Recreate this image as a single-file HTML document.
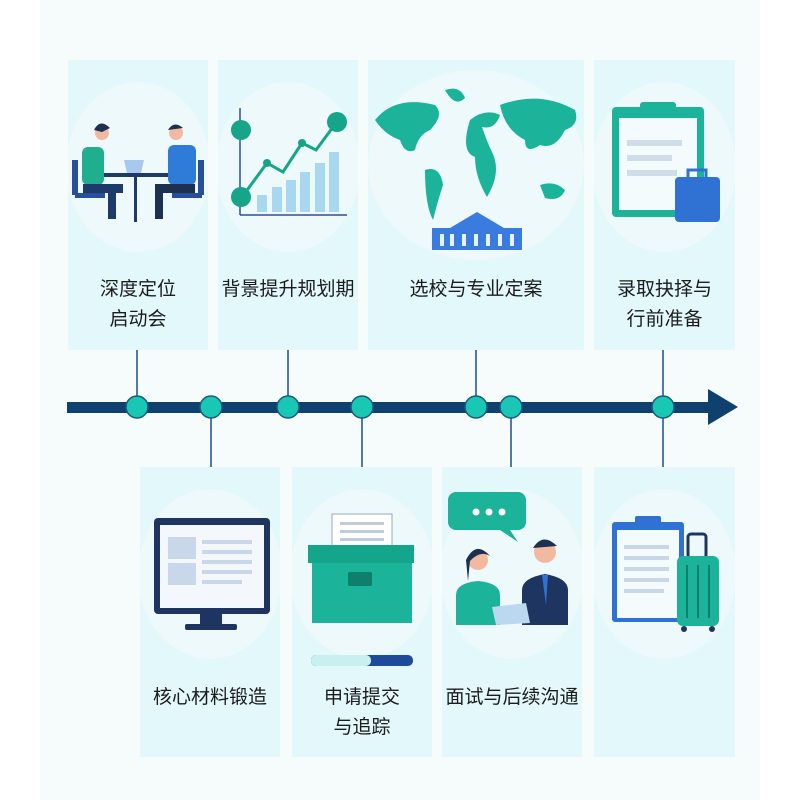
<!DOCTYPE html>
<html><head><meta charset="utf-8"><style>
body{margin:0;width:800px;height:800px;background:#fff;position:relative;overflow:hidden;font-family:"Liberation Sans","Noto Sans CJK SC",sans-serif}
.panel{position:absolute;left:40px;top:0;width:720px;height:800px;background:#f6fcfc}
.card{position:absolute;background:#e2f8fa;overflow:hidden}
.circ{position:absolute;border-radius:50%;background:#eef9fb}
.lbl{position:absolute;left:0;right:0;text-align:center;font-size:19px;color:#1c1c1c;line-height:30px}
svg{position:absolute;left:0;top:0}
</style></head><body>
<div class="panel"></div>

<!-- top cards -->
<div class="card" style="left:68px;top:60px;width:140px;height:290px"><div class="circ" style="left:-2px;top:22px;width:144px;height:170px"></div><div class="lbl" style="top:275px;top:215px">深度定位<br>启动会</div></div>
<div class="card" style="left:218px;top:60px;width:140px;height:290px"><div class="circ" style="left:-2px;top:22px;width:144px;height:170px"></div><div class="lbl" style="top:215px">背景提升规划期</div></div>
<div class="card" style="left:368px;top:60px;width:216px;height:290px"><div class="circ" style="left:0;top:10px;width:216px;height:190px"></div><div class="lbl" style="top:215px">选校与专业定案</div></div>
<div class="card" style="left:594px;top:60px;width:141px;height:290px"><div class="circ" style="left:-2px;top:22px;width:144px;height:170px"></div><div class="lbl" style="top:215px">录取抉择与<br>行前准备</div></div>

<!-- bottom cards -->
<div class="card" style="left:140px;top:467px;width:140px;height:290px"><div class="circ" style="left:-2px;top:22px;width:144px;height:170px"></div><div class="lbl" style="top:216px">核心材料锻造</div></div>
<div class="card" style="left:292px;top:467px;width:140px;height:290px"><div class="circ" style="left:-2px;top:22px;width:144px;height:170px"></div><div class="lbl" style="top:216px">申请提交<br>与追踪</div></div>
<div class="card" style="left:442px;top:467px;width:140px;height:290px"><div class="circ" style="left:-2px;top:22px;width:144px;height:170px"></div><div class="lbl" style="top:216px">面试与后续沟通</div></div>
<div class="card" style="left:594px;top:467px;width:141px;height:290px"><div class="circ" style="left:-2px;top:22px;width:144px;height:170px"></div></div>

<svg width="800" height="800" viewBox="0 0 800 800">
<!-- connectors -->
<g stroke="#1d4f8a" stroke-width="1.5">
<line x1="137" y1="350" x2="137" y2="407"/><line x1="288" y1="350" x2="288" y2="407"/>
<line x1="476" y1="350" x2="476" y2="407"/><line x1="663" y1="350" x2="663" y2="407"/>
<line x1="211" y1="407" x2="211" y2="467"/><line x1="362" y1="407" x2="362" y2="467"/>
<line x1="511" y1="407" x2="511" y2="467"/><line x1="663" y1="407" x2="663" y2="467"/>
</g>
<rect x="67" y="402" width="648" height="11" fill="#0e416e"/>
<polygon points="708,389 738,407 708,425" fill="#0e416e"/>
<g fill="#18c8b4" stroke="#1a5a80" stroke-width="1.5">
<circle cx="137" cy="407" r="11"/><circle cx="211" cy="407" r="11"/><circle cx="288" cy="407" r="11"/><circle cx="362" cy="407" r="11"/><circle cx="476" cy="407" r="11"/><circle cx="511" cy="407" r="11"/><circle cx="663" cy="407" r="11"/>
</g>

<!-- icon 1: meeting -->
<g>
<rect x="100" y="173" width="70" height="4" fill="#1d3a6a"/><rect x="134" y="177" width="3" height="45" fill="#1d3a6a"/>
<polygon points="124,160 144,160 141,173 127,173" fill="#a8c8f0"/>
<circle cx="102" cy="133" r="7" fill="#f2b9a0"/><path d="M94,130 q6,-12 16,-2 l-8,4 z" fill="#1d3050"/>
<rect x="82" y="147" width="22" height="38" rx="6" fill="#1fae8e"/><rect x="83" y="184" width="40" height="9" fill="#1d3a6a"/><rect x="108" y="184" width="8" height="35" fill="#1d3a6a"/>
<rect x="72" y="160" width="6" height="35" fill="#294f9c"/><rect x="75" y="193" width="30" height="5" fill="#294f9c"/>
<circle cx="176" cy="133" r="7" fill="#f2b9a0"/><path d="M168,130 q6,-10 15,-2 z" fill="#1d3050"/>
<rect x="168" y="145" width="28" height="40" rx="6" fill="#2f7bd8"/><rect x="155" y="184" width="40" height="9" fill="#1d3050"/><rect x="155" y="184" width="8" height="35" fill="#1d3050"/>
<rect x="198" y="160" width="6" height="35" fill="#294f9c"/><rect x="172" y="193" width="30" height="5" fill="#294f9c"/>
</g>
<!-- icon 2: chart -->
<g>
<line x1="240" y1="108" x2="240" y2="215" stroke="#2d4f9a" stroke-width="1.5"/><line x1="240" y1="215" x2="347" y2="215" stroke="#2d4f9a" stroke-width="1.5"/>
<g fill="#a8d8f0"><rect x="257" y="195" width="10" height="17"/><rect x="272" y="187" width="10" height="25"/><rect x="286" y="180" width="10" height="32"/><rect x="300" y="172" width="10" height="40"/><rect x="315" y="163" width="10" height="49"/><rect x="329" y="152" width="10" height="60"/></g>
<polyline points="242,197 267,163 283,172 302,143 316,150 336,123" fill="none" stroke="#17a58a" stroke-width="3"/>
<circle cx="241" cy="130" r="10" fill="#17a58a"/><circle cx="241" cy="197" r="10" fill="#17a58a"/><circle cx="337" cy="122" r="10" fill="#17a58a"/>
<circle cx="267" cy="163" r="4" fill="#17a58a"/><circle cx="302" cy="143" r="4" fill="#17a58a"/>
</g>
<!-- icon 3: world map -->
<g fill="#1bb39a">
<path d="M375,120 q20,-25 60,-15 q10,10 -5,25 q-12,5 -15,20 q-10,5 -15,-10 q-15,-5 -25,-20z"/>
<path d="M425,170 q15,-5 18,15 q-5,15 -10,35 q-8,-15 -8,-50z"/>
<path d="M445,90 q15,-5 20,8 q-10,10 -20,-8z"/>
<path d="M470,120 q15,-12 30,-5 q-5,15 -18,12 q5,15 10,25 q10,20 -5,45 q-12,-20 -12,-40 q-15,-5 -5,-37z"/>
<path d="M500,105 q40,-15 75,5 q5,15 -10,20 q-10,20 -25,15 q-15,10 -15,-5 q-20,-10 -25,-35z"/>
<path d="M540,185 q15,-5 25,5 q-5,12 -20,8 z"/>
</g>
<g fill="#3a7be0"><rect x="432" y="228" width="90" height="22"/><polygon points="450,228 477,212 504,228"/></g>
<g fill="#e8f2ff"><rect x="440" y="234" width="4" height="12"/><rect x="450" y="234" width="4" height="12"/><rect x="462" y="234" width="4" height="12"/><rect x="474" y="234" width="4" height="12"/><rect x="486" y="234" width="4" height="12"/><rect x="498" y="234" width="4" height="12"/><rect x="510" y="234" width="4" height="12"/></g>
<!-- icon 4: clipboard + suitcase -->
<g>
<rect x="612" y="107" width="92" height="110" rx="4" fill="#1bb39a"/><rect x="619" y="118" width="78" height="92" fill="#f4fbfc"/>
<rect x="640" y="102" width="36" height="12" rx="3" fill="#1bb39a"/>
<g fill="#cfdcea"><rect x="627" y="140" width="55" height="6"/><rect x="627" y="155" width="45" height="6"/><rect x="627" y="170" width="50" height="6"/></g>
<rect x="675" y="177" width="45" height="45" rx="4" fill="#2f72d4"/><rect x="688" y="170" width="18" height="9" fill="none" stroke="#2f72d4" stroke-width="3"/>
</g>
<!-- icon 5: monitor -->
<g>
<rect x="154" y="518" width="116" height="96" rx="4" fill="#1d3560"/><rect x="160" y="525" width="104" height="83" fill="#f4f8fc"/>
<rect x="168" y="537" width="28" height="22" fill="#c8d8ea"/><rect x="168" y="563" width="28" height="22" fill="#c8d8ea"/>
<g fill="#c8d8ea"><rect x="202" y="540" width="50" height="4"/><rect x="202" y="550" width="50" height="4"/><rect x="202" y="560" width="50" height="4"/><rect x="202" y="570" width="50" height="4"/><rect x="202" y="580" width="40" height="4"/></g>
<rect x="200" y="614" width="22" height="10" fill="#1d3560"/><rect x="185" y="624" width="52" height="6" rx="2" fill="#1d3560"/>
</g>
<!-- icon 6: box -->
<g>
<rect x="332" y="514" width="60" height="50" fill="#fff" stroke="#9aa8b8"/><g fill="#c0ccd8"><rect x="340" y="522" width="44" height="3"/><rect x="340" y="530" width="44" height="3"/><rect x="340" y="538" width="44" height="3"/></g>
<rect x="308" y="545" width="106" height="18" fill="#14a58b"/><rect x="312" y="563" width="100" height="60" fill="#1bb39a"/>
<rect x="348" y="572" width="24" height="14" rx="2" fill="#0f7f6b"/>
<rect x="311" y="655" width="102" height="11" rx="5" fill="#1e4a9a"/><rect x="311" y="655" width="60" height="11" rx="5" fill="#c8f0f0"/>
</g>
<!-- icon 7: interview -->
<g>
<path d="M456,492 h62 a8,8 0 0 1 8,8 v22 a8,8 0 0 1 -8,8 h-8 l8,12 l-18,-12 h-44 a8,8 0 0 1 -8,-8 v-22 a8,8 0 0 1 8,-8z" fill="#1bb39a"/>
<circle cx="476" cy="512" r="3.5" fill="#fff"/><circle cx="489" cy="512" r="3.5" fill="#fff"/><circle cx="502" cy="512" r="3.5" fill="#fff"/>
<circle cx="478" cy="560" r="10" fill="#f2b9a0"/><path d="M466,560 q10,-20 24,-4 q-10,-6 -20,5 l-2,20z" fill="#1d3050"/>
<path d="M456,625 v-30 q0,-12 22,-14 q22,2 22,14 v30z" fill="#1bb39a"/>
<circle cx="545" cy="552" r="11" fill="#f2b9a0"/><path d="M533,548 q10,-16 24,-2z" fill="#1d3050"/>
<path d="M522,625 v-35 q0,-12 23,-16 q23,4 23,16 v35z" fill="#1d3560"/><polygon points="542,575 548,575 546,605" fill="#2f72d4"/>
<polygon points="492,607 526,603 530,623 496,625" fill="#bcd8f0"/>
</g>
<!-- icon 8: clipboard + luggage -->
<g>
<rect x="612" y="522" width="72" height="100" rx="3" fill="#2f72d4"/><rect x="617" y="530" width="62" height="88" fill="#f4fbfc"/>
<rect x="635" y="516" width="26" height="10" rx="2" fill="#2f72d4"/>
<g fill="#c8d8ea"><rect x="624" y="545" width="45" height="4"/><rect x="624" y="556" width="45" height="4"/><rect x="624" y="567" width="45" height="4"/><rect x="624" y="578" width="45" height="4"/><rect x="624" y="589" width="40" height="4"/></g>
<rect x="688" y="534" width="18" height="24" rx="3" fill="none" stroke="#1d3560" stroke-width="3"/>
<rect x="677" y="556" width="42" height="70" rx="6" fill="#1bb39a"/>
<g stroke="#0f7f6b" stroke-width="2"><line x1="687" y1="565" x2="687" y2="618"/><line x1="698" y1="565" x2="698" y2="618"/><line x1="709" y1="565" x2="709" y2="618"/></g>
<circle cx="684" cy="629" r="3" fill="#1d3560"/><circle cx="712" cy="629" r="3" fill="#1d3560"/>
</g>
</svg>
</body></html>
